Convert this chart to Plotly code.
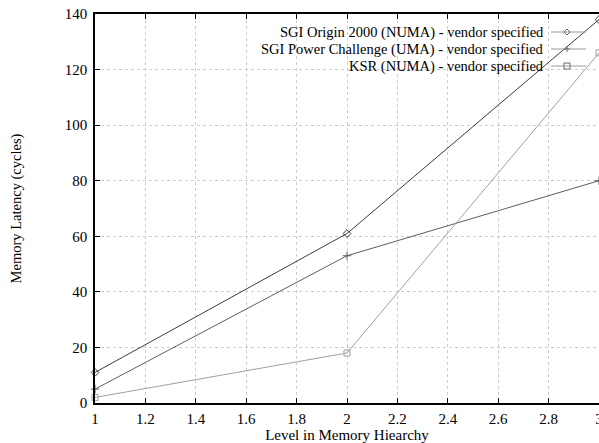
import plotly.graph_objects as go

levels = [1, 2, 3]
origin = [11, 61, 138]
power = [5, 53, 80]
ksr = [2, 18, 126]
x_ticks = [1, 1.2, 1.4, 1.6, 1.8, 2, 2.2, 2.4, 2.6, 2.8, 3]
y_ticks = [0, 20, 40, 60, 80, 100, 120, 140]
names = ["SGI Origin 2000 (NUMA) - vendor specified",
         "SGI Power Challenge (UMA) - vendor specified",
         "KSR (NUMA) - vendor specified"]
colors = ["#3c3c3c", "#5e5e5e", "#a0a0a0"]
symbols = ["diamond-open", "cross-thin-open", "square-open"]
series = [origin, power, ksr]

FONT = "Liberation Serif"
fig = go.Figure()
for s, n, c, sym in zip(series, names, colors, symbols):
    fig.add_trace(go.Scatter(x=levels, y=s, name=n, mode="lines+markers",
                             line=dict(color=c, width=1),
                             marker=dict(symbol=sym, size=6, color=c, line=dict(width=1, color=c)),
                             showlegend=False, cliponaxis=False))

W, H = 599, 443
ml, mr, mt, mb = 95, 0, 14, 40
pw, ph = W - ml - mr, H - mt - mb

def px(x):
    return (x - ml) / pw

def py(y):
    return (H - mb - y) / ph

rows = [32, 49, 66]
shapes = []
annots = []
for i, (n, c) in enumerate(zip(names, colors)):
    yy = py(rows[i])
    annots.append(dict(x=px(546), y=yy, xref="paper", yref="paper", text=n,
                       showarrow=False, xanchor="right", yanchor="middle",
                       font=dict(family=FONT, size=14.5, color="black")))
    shapes.append(dict(type="line", xref="paper", yref="paper", x0=px(551), x1=px(586),
                       y0=yy, y1=yy, line=dict(color="#9a9a9a", width=1)))
    mx = px(567)
    if i == 0:
        path = "M -3 0 L 0 -3 L 3 0 L 0 3 Z"
    elif i == 1:
        path = "M -3 0 L 3 0 M 0 -3 L 0 3"
    else:
        path = "M -3 -3 L 3 -3 L 3 3 L -3 3 Z"
    shapes.append(dict(type="path", xref="paper", yref="paper", xsizemode="pixel",
                       ysizemode="pixel", xanchor=mx, yanchor=yy, path=path,
                       line=dict(color="#666666", width=1)))

axis_common = dict(showgrid=True, gridcolor="#cccccc", griddash="dot", gridwidth=1,
                   zeroline=False, showline=True, linecolor="black", linewidth=1.5,
                   ticks="inside", ticklen=5, tickcolor="black", automargin=False,
                   tickfont=dict(family=FONT, size=15, color="black"))

fig.update_layout(
    width=W, height=H, margin=dict(l=ml, r=mr, t=mt, b=mb),
    paper_bgcolor="white", plot_bgcolor="white",
    xaxis=dict(range=[1, 3], tickvals=x_ticks, ticktext=[f"{v:g}" for v in x_ticks],
               mirror="ticks", ticklabelstandoff=1, ticklabeloverflow="allow",
               title=dict(text="Level in Memory Hiearchy", font=dict(family=FONT, size=15, color="black"), standoff=0),
               **axis_common),
    yaxis=dict(range=[0, 140], tickvals=y_ticks, mirror=False, ticklabelstandoff=3,
               title=dict(text="Memory Latency (cycles)", font=dict(family=FONT, size=14.5, color="black"), standoff=40),
               **axis_common),
    shapes=shapes, annotations=annots,
)
fig.write_html("out.html", config={"displayModeBar": False},
               post_script="document.body.style.margin='0';document.body.style.overflow='hidden';")
